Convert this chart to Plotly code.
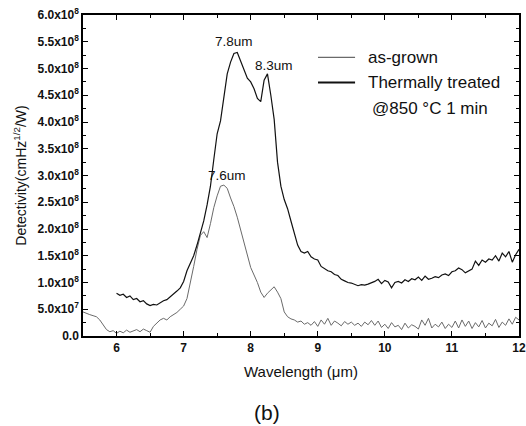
import plotly.graph_objects as go

# ---- data (detectivity in units of 1e8 cmHz^1/2/W) ----
wl_treated = [6.00, 6.05, 6.10, 6.15, 6.20, 6.25, 6.30, 6.35, 6.40, 6.45, 6.50, 6.55, 6.60, 6.65, 6.70, 6.75,
              6.80, 6.85, 6.90, 6.95, 7.00, 7.05, 7.10, 7.15, 7.20, 7.25, 7.30, 7.35, 7.40, 7.45, 7.50, 7.55,
              7.60, 7.65, 7.70, 7.75, 7.80, 7.85, 7.90, 7.95, 8.00, 8.05, 8.10, 8.15, 8.20, 8.25, 8.30, 8.35,
              8.40, 8.45, 8.50, 8.55, 8.60, 8.65, 8.70, 8.75, 8.80, 8.85, 8.90, 8.95, 9.00, 9.05, 9.10, 9.15,
              9.20, 9.25, 9.30, 9.35, 9.40, 9.45, 9.50, 9.55, 9.60, 9.65, 9.70, 9.75, 9.80, 9.85, 9.90, 9.95,
              10.00, 10.05, 10.10, 10.15, 10.20, 10.25, 10.30, 10.35, 10.40, 10.45, 10.50, 10.55, 10.60, 10.65,
              10.70, 10.75, 10.80, 10.85, 10.90, 10.95, 11.00, 11.05, 11.10, 11.15, 11.20, 11.25, 11.30, 11.35,
              11.40, 11.45, 11.50, 11.55, 11.60, 11.65, 11.70, 11.75, 11.80, 11.85, 11.90, 11.95, 12.00]
d_treated = [0.80, 0.76, 0.78, 0.72, 0.75, 0.68, 0.70, 0.64, 0.66, 0.60, 0.57, 0.59, 0.58, 0.62, 0.66, 0.68,
             0.73, 0.78, 0.84, 0.90, 1.02, 1.22, 1.35, 1.50, 1.70, 1.92, 2.15, 2.45, 2.80, 3.30, 3.78, 4.02,
             4.50, 4.90, 5.12, 5.28, 5.30, 5.15, 4.98, 4.82, 4.75, 4.62, 4.44, 4.38, 4.78, 4.90, 4.50, 4.05,
             3.25, 2.80, 2.55, 2.38, 2.15, 1.92, 1.70, 1.58, 1.55, 1.58, 1.48, 1.44, 1.42, 1.30, 1.26, 1.22,
             1.20, 1.15, 1.13, 1.06, 1.03, 1.00, 0.99, 0.97, 0.94, 0.96, 0.95, 0.97, 0.99, 1.02, 1.06, 0.98,
             1.04, 1.01, 0.90, 1.00, 1.02, 0.99, 1.05, 1.02, 1.07, 1.05, 1.10, 1.04, 1.12, 1.06,
             1.08, 1.11, 1.09, 1.14, 1.16, 1.13, 1.20, 1.22, 1.27, 1.24, 1.18, 1.22, 1.25, 1.40,
             1.32, 1.42, 1.38, 1.44, 1.42, 1.50, 1.40, 1.55, 1.48, 1.58, 1.38, 1.52, 1.62]

wl_grown = [5.50, 5.55, 5.60, 5.65, 5.70, 5.75, 5.80, 5.85, 5.90, 5.95] + wl_treated
d_grown = [0.45, 0.42, 0.40, 0.38, 0.36, 0.30, 0.22, 0.12, 0.08, 0.10,
           0.05, 0.09, 0.06, 0.11, 0.07, 0.10, 0.12, 0.08, 0.13, 0.10, 0.07, 0.18, 0.24, 0.30, 0.33, 0.30,
           0.36, 0.40, 0.44, 0.50, 0.56, 0.70, 0.98, 1.30, 1.62, 1.88, 1.95, 1.84, 2.10, 2.40, 2.62, 2.80,
           2.82, 2.76, 2.58, 2.42, 2.22, 1.98, 1.72, 1.50, 1.28, 1.14, 1.00, 0.82, 0.72, 0.80, 0.86, 0.92,
           0.82, 0.70, 0.45, 0.36, 0.32, 0.30, 0.26, 0.28, 0.22, 0.25, 0.20, 0.27, 0.18, 0.30, 0.22, 0.33,
           0.20, 0.28, 0.24, 0.19, 0.27, 0.22, 0.26, 0.20, 0.24, 0.18, 0.26, 0.21, 0.29, 0.20, 0.28, 0.16,
           0.22, 0.14, 0.25, 0.17, 0.20, 0.12, 0.24, 0.15, 0.21, 0.18, 0.13, 0.30, 0.20, 0.33,
           0.15, 0.22, 0.17, 0.26, 0.14, 0.22, 0.16, 0.28, 0.15, 0.30, 0.18, 0.28, 0.14, 0.25,
           0.17, 0.29, 0.15, 0.24, 0.19, 0.31, 0.16, 0.26, 0.20, 0.32, 0.22, 0.35, 0.30]

y_tickvals = [0.0, 0.5, 1.0, 1.5, 2.0, 2.5, 3.0, 3.5, 4.0, 4.5, 5.0, 5.5, 6.0]
y_ticktext = ["0.0", "5.0x10<sup>7</sup>", "1.0x10<sup>8</sup>", "1.5x10<sup>8</sup>", "2.0x10<sup>8</sup>",
              "2.5x10<sup>8</sup>", "3.0x10<sup>8</sup>", "3.5x10<sup>8</sup>", "4.0x10<sup>8</sup>",
              "4.5x10<sup>8</sup>", "5.0x10<sup>8</sup>", "5.5x10<sup>8</sup>", "6.0x10<sup>8</sup>"]
x_tickvals = [6, 7, 8, 9, 10, 11, 12]
x_minor = [5.5, 6.5, 7.5, 8.5, 9.5, 10.5, 11.5]

peak_labels = ["7.8um", "8.3um", "7.6um"]
peak_x = [7.75, 8.34, 7.64]
peak_y = [5.51, 5.06, 3.00]

series_names = ["as-grown", "Thermally treated"]
legend_note = "@850 \u00b0C 1 min"

FONT = "Liberation Sans, Arial, sans-serif"
C_GROWN = "#6a6a6a"
C_TREAT = "#111111"

fig = go.Figure()
fig.add_trace(go.Scatter(x=wl_grown, y=d_grown, mode="lines", name=series_names[0],
                         line=dict(color=C_GROWN, width=1), showlegend=False))
fig.add_trace(go.Scatter(x=wl_treated, y=d_treated, mode="lines", name=series_names[1],
                         line=dict(color=C_TREAT, width=1.2), showlegend=False))

for t, xx, yy in zip(peak_labels, peak_x, peak_y):
    fig.add_annotation(x=xx, y=yy, text=t, showarrow=False, xref="x", yref="y",
                       font=dict(family=FONT, size=13.5, color="#111"))

# legend (drawn as keys + text)
leg_y = [0.868, 0.790]
for name, col, w, yy in zip(series_names, [C_GROWN, C_TREAT], [1.2, 2], leg_y):
    fig.add_shape(type="line", xref="paper", yref="paper", x0=0.539, x1=0.624, y0=yy, y1=yy,
                  line=dict(color=col, width=w))
    fig.add_annotation(x=0.650, y=yy, xref="paper", yref="paper", xanchor="left", yanchor="middle",
                       text=name, showarrow=False, font=dict(family=FONT, size=17, color="#111"))
fig.add_annotation(x=0.659, y=0.709, xref="paper", yref="paper", xanchor="left", yanchor="middle",
                   text=legend_note, showarrow=False, font=dict(family=FONT, size=17, color="#111"))

fig.add_annotation(x=0.4224, y=-0.237, xref="paper", yref="paper", text="(b)", showarrow=False,
                   xanchor="center", yanchor="middle", font=dict(family=FONT, size=21, color="#111"))

fig.update_layout(
    width=526, height=426,
    margin=dict(l=83, r=7, t=15, b=90),
    plot_bgcolor="white", paper_bgcolor="white",
    font=dict(family=FONT, color="#111"),
    showlegend=False,
    xaxis=dict(range=[5.5, 12], tickvals=x_tickvals, ticks="inside", ticklen=5, tickwidth=1.2,
               tickcolor="black", automargin=False, ticklabeloverflow="allow",
               showline=True, linecolor="black", linewidth=1.5, mirror="ticks", showgrid=False,
               zeroline=False, tickfont=dict(family=FONT, size=12, weight="bold"),
               title=dict(text="Wavelength (\u03bcm)", standoff=12, font=dict(family=FONT, size=15)),
               minor=dict(tickvals=x_minor, ticks="inside", ticklen=3, tickcolor="black")),
    yaxis=dict(range=[0, 6], tickvals=y_tickvals, ticktext=y_ticktext, ticks="inside", ticklen=5,
               tickwidth=1.2, tickcolor="black", automargin=False, ticklabeloverflow="allow",
               showline=True, linecolor="black", linewidth=1.5, mirror="ticks",
               showgrid=False, zeroline=False, tickfont=dict(family=FONT, size=12, weight="bold"),
               title=dict(text="Detectivity(cmHz<sup>1/2</sup>/W)", standoff=8,
                          font=dict(family=FONT, size=14)),
               minor=dict(dtick=0.25, ticks="inside", ticklen=3, tickcolor="black")),
)

# remove the default 8px page margin so the figure fills the 526x426 window exactly
fig.write_html("out.html", config={"displayModeBar": False},
               post_script="document.body.style.margin='0';document.body.style.overflow='hidden';")
